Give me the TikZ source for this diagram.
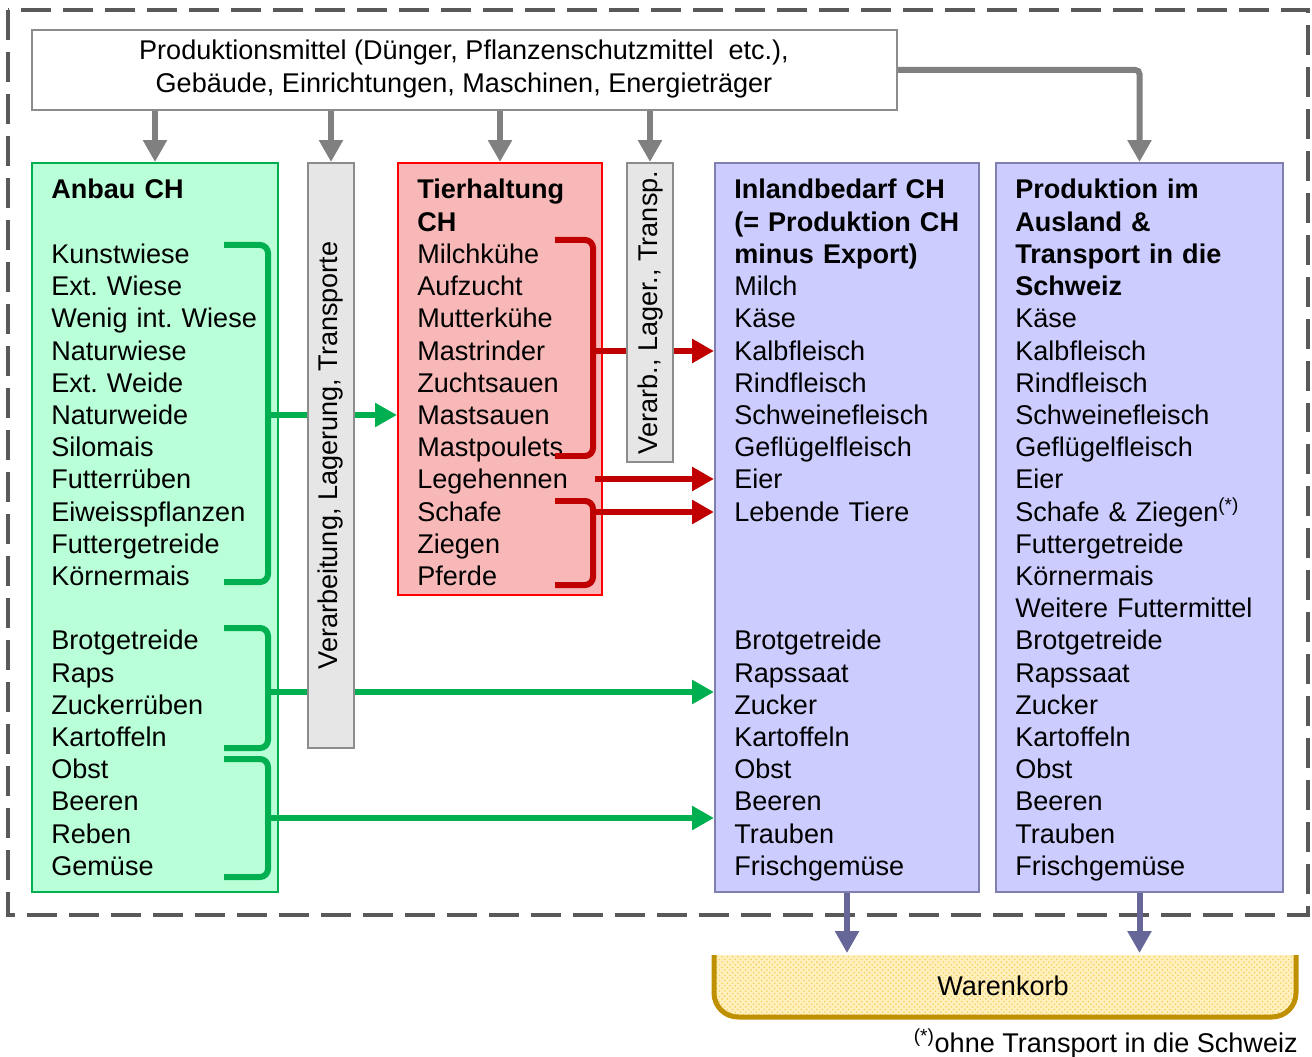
\documentclass[tikz,border=0pt]{standalone}
\usepackage{fontspec}
\setmainfont{Liberation Sans}
\usetikzlibrary{arrows.meta,fit,patterns}
\frenchspacing

\definecolor{anbaufill}{RGB}{185,255,215}
\definecolor{anbauline}{RGB}{0,176,80}
\definecolor{tierfill}{RGB}{248,184,184}
\definecolor{tierline}{RGB}{255,0,0}
\definecolor{tierarrow}{RGB}{192,0,0}
\definecolor{bedarffill}{RGB}{204,204,255}
\definecolor{bedarfline}{RGB}{128,128,176}
\definecolor{bedarfarrow}{RGB}{102,102,153}
\definecolor{procfill}{RGB}{230,230,230}
\definecolor{procline}{RGB}{140,140,140}
\definecolor{mittelarrow}{RGB}{128,128,128}
\definecolor{framecol}{RGB}{89,89,89}
\definecolor{korbline}{RGB}{191,144,0}
\definecolor{korbfill}{RGB}{255,240,190}
\definecolor{korbdot}{RGB}{250,205,90}

\begin{document}
\begin{tikzpicture}[x=0.02cm,y=-0.02cm]

\tikzset{
  box/.style={draw, line width=0.04cm, inner sep=0pt},
  txt/.style={anchor=base west, align=left, inner sep=0pt, text width=5.6cm,
    font=\fontsize{15.4pt}{18.33pt}\selectfont},
  flow/.style={line width=0.12cm, -{Triangle[length=0.44cm,width=0.46cm]}},
  bracket/.style={line width=0.12cm, rounded corners=0.16cm},
}

\useasboundingbox (0,0) rectangle (1312,1057);

%% Systemgrenze
\draw[framecol, line width=0.07cm, dash pattern=on 0.6cm off 0.24cm] (8,10) rectangle (1308,915);

%% Produktionsmittel
\node[box, draw=procline, fill=white, fit={(32,30) (897,110)}] (mittel) {};
\node[align=center, inner sep=0pt, font=\fontsize{15.4pt}{18.33pt}\selectfont] (mittel-txt) at (464,69)
  {Produktionsmittel (Dünger, Pflanzenschutzmittel~ etc.),\\Gebäude, Einrichtungen, Maschinen, Energieträger};

%% Anbau
\node[box, draw=anbauline, fill=anbaufill, fit={(32,163) (278,892)}] (anbau) {};
\node[txt] (anbau-txt) at ([shift={(20,37)}]anbau.north west)
  {\textbf{Anbau CH}\\ \mbox{}\\ Kunstwiese\\ Ext. Wiese\\ Wenig int. Wiese\\ Naturwiese\\ Ext. Weide\\ Naturweide\\ Silomais\\ Futterrüben\\ Eiweisspflanzen\\ Futtergetreide\\ Körnermais\\ \mbox{}\\ Brotgetreide\\ Raps\\ Zuckerrüben\\ Kartoffeln\\ Obst\\ Beeren\\ Reben\\ Gemüse};

%% Tierhaltung
\node[box, draw=tierline, fill=tierfill, fit={(398,163) (602,595)}] (tier) {};
\node[txt] (tier-txt) at ([shift={(20,37)}]tier.north west)
  {\textbf{Tierhaltung}\\ \textbf{CH}\\ Milchkühe\\ Aufzucht\\ Mutterkühe\\ Mastrinder\\ Zuchtsauen\\ Mastsauen\\ Mastpoulets\\ Legehennen\\ Schafe\\ Ziegen\\ Pferde};

%% Inlandbedarf
\node[box, draw=bedarfline, fill=bedarffill, fit={(715,163) (979,892)}] (inland) {};
\node[txt] (inland-txt) at ([shift={(20,37)}]inland.north west)
  {\textbf{Inlandbedarf CH}\\ \textbf{(= Produktion CH}\\ \textbf{minus Export)}\\ Milch\\ Käse\\ Kalbfleisch\\ Rindfleisch\\ Schweinefleisch\\ Geflügelfleisch\\ Eier\\ Lebende Tiere\\ \mbox{}\\ \mbox{}\\ \mbox{}\\ Brotgetreide\\ Rapssaat\\ Zucker\\ Kartoffeln\\ Obst\\ Beeren\\ Trauben\\ Frischgemüse};

%% Ausland
\node[box, draw=bedarfline, fill=bedarffill, fit={(996,163) (1283,892)}] (ausland) {};
\node[txt] (ausland-txt) at ([shift={(20,37)}]ausland.north west)
  {\textbf{Produktion im}\\ \textbf{Ausland \&}\\ \textbf{Transport in die}\\ \textbf{Schweiz}\\ Käse\\ Kalbfleisch\\ Rindfleisch\\ Schweinefleisch\\ Geflügelfleisch\\ Eier\\ Schafe \& Ziegen\textsuperscript{(*)}\\ Futtergetreide\\ Körnermais\\ Weitere Futtermittel\\ Brotgetreide\\ Rapssaat\\ Zucker\\ Kartoffeln\\ Obst\\ Beeren\\ Trauben\\ Frischgemüse};

%% Klammern Anbau
\draw[bracket, anbauline] (224,245) -- (268,245) -- (268,582) -- (224,582);
\draw[bracket, anbauline] (224,628) -- (268,628) -- (268,748) -- (224,748);
\draw[bracket, anbauline] (224,759) -- (268,759) -- (268,877) -- (224,877);
\coordinate (futter) at (268,415);
\coordinate (acker) at (268,692);
\coordinate (spezial) at (268,818);
\draw[flow, anbauline] (futter) -- (futter -| tier.west);
\draw[flow, anbauline] (acker) -- (acker -| inland.west);
\draw[flow, anbauline] (spezial) -- (spezial -| inland.west);

%% Klammern Tierhaltung
\draw[bracket, tierarrow] (555,240) -- (593,240) -- (593,456) -- (555,456);
\draw[bracket, tierarrow] (555,501) -- (593,501) -- (593,585) -- (555,585);
\coordinate (fleisch) at (593,351);
\coordinate (eier) at (595,479);
\coordinate (tiere) at (593,512);
\draw[flow, tierarrow] (fleisch) -- (fleisch -| inland.west);
\draw[flow, tierarrow] (eier) -- (eier -| inland.west);
\draw[flow, tierarrow] (tiere) -- (tiere -| inland.west);

%% Verarbeitung
\node[box, draw=procline, fill=procfill, fit={(308,163) (354,748)}] (verarb) {};
\node[rotate=90, inner sep=0pt, font=\fontsize{15.4pt}{18.33pt}\selectfont] (verarb-txt) at (verarb.center)
  {Verarbeitung, Lagerung, Transporte};
\node[box, draw=procline, fill=procfill, fit={(627,163) (673,462)}] (lager) {};
\node[rotate=90, inner sep=0pt, font=\fontsize{15.4pt}{18.33pt}\selectfont] (lager-txt) at (lager.center)
  {Verarb., Lager., Transp.};

%% Produktionsmittel -> Stufen
\draw[flow, mittelarrow] (mittel.south -| anbau.north) -- (anbau.north);
\draw[flow, mittelarrow] (mittel.south -| verarb.north) -- (verarb.north);
\draw[flow, mittelarrow] (mittel.south -| tier.north) -- (tier.north);
\draw[flow, mittelarrow] (mittel.south -| lager.north) -- (lager.north);
\draw[flow, mittelarrow, rounded corners=0.08cm] (mittel.east) -| (ausland.north);

%% Warenkorb
\draw[korbline, line width=0.1cm, preaction={fill=korbfill}, pattern=crosshatch dots, pattern color=korbdot]
  (714,955) -- (714,993) to[out=-90,in=180] (738,1017) -- (1272,1017) to[out=0,in=-90] (1296,993) -- (1296,955);
\node[font=\fontsize{15.4pt}{18.33pt}\selectfont] (korb) at (1003,986) {Warenkorb};
\coordinate (korb-top) at (1003,953);
\draw[flow, bedarfarrow] (inland.south) -- (inland.south |- korb-top);
\draw[flow, bedarfarrow] (ausland.south) -- (ausland.south |- korb-top);

%% Fussnote
\node[anchor=base east, inner sep=0pt, font=\fontsize{15.4pt}{18.33pt}\selectfont] (fussnote) at (1298,1052)
  {\textsuperscript{(*)}ohne Transport in die Schweiz};

\end{tikzpicture}
\end{document}
